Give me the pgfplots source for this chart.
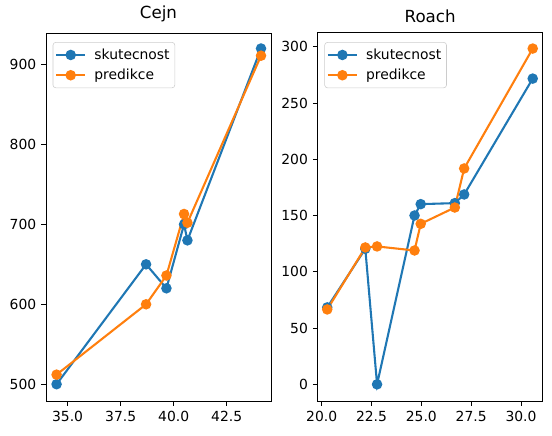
\documentclass[border=0pt]{standalone}
\usepackage{fontspec}
\setmainfont{DejaVu Sans}
\usepackage{pgfplots}
\pgfplotsset{compat=1.18}
\definecolor{cA}{HTML}{1F77B4}
\definecolor{cB}{HTML}{FF7F0E}
\pgfplotsset{
  panel/.style={
    scale only axis,
    width=162pt, height=265pt,
    axis line style={black, line width=0.6pt},
    tick align=outside,
    major tick length=3.5pt,
    every tick/.style={black, line width=0.6pt},
    xtick pos=bottom, ytick pos=left,
    tick label style={font=\fontsize{10}{12}\selectfont},
    title style={font=\fontsize{12}{14}\selectfont, yshift=-2pt},
    /pgf/number format/assume math mode=true,
    legend style={at={(0.03,0.975)}, anchor=north west, draw=black!20, rounded corners=2pt,
      font=\fontsize{10}{12}\selectfont, inner xsep=1.5pt, inner ysep=2.5pt,
      row sep=1.5pt, column sep=3.6pt,
      nodes={inner xsep=2.2pt, inner ysep=2pt}},
    legend image code/.code={
      \draw[mark repeat=2, mark phase=2] plot coordinates {(0pt,0pt) (10.5pt,0pt) (21pt,0pt)};},
    legend cell align=left,
    every axis plot/.append style={line width=1.5pt},
  },
  sk/.style={cA, mark=*, mark size=3pt, mark options={solid, fill=cA, draw=cA}},
  pr/.style={cB, mark=*, mark size=3pt, mark options={solid, fill=cB, draw=cB}},
}
\begin{document}
\begin{tikzpicture}
% page padding as in the reference (1px = 0.72pt)
\useasboundingbox (-33.1pt,-24.5pt) rectangle (364.3pt,288.7pt);
\begin{axis}[panel, title={Cejn},
  xmin=33.98, xmax=44.59, ymin=479, ymax=939.5,
  xtick={35,37.5,40,42.5},
  xticklabel style={/pgf/number format/.cd, fixed, fixed zerofill, precision=1},
  ytick={500,600,700,800,900}]
\addplot[sk] coordinates {
  (34.48,500) (38.70,650) (39.66,620) (40.49,700) (40.65,680) (44.12,920)
};
\addlegendentry{skutecnost}
\addplot[pr] coordinates {
  (34.48,512) (38.70,600) (39.66,636) (40.49,713) (40.65,702) (44.12,911)
};
\addlegendentry{predikce}
\end{axis}
\begin{axis}[panel, title={Roach}, xshift=195.6pt,
  xmin=19.80, xmax=31.09, ymin=-14.8, ymax=312.4,
  xtick={20,22.5,25,27.5,30},
  xticklabel style={/pgf/number format/.cd, fixed, fixed zerofill, precision=1},
  ytick={0,50,100,150,200,250,300}]
\addplot[sk] coordinates {
  (20.28,68.4) (22.19,120.5) (22.78,0) (24.66,150.1) (24.97,160.2) (26.68,161.1) (27.15,168.8) (30.59,271.8)
};
\addlegendentry{skutecnost}
\addplot[pr] coordinates {
  (20.28,66.6) (22.19,121.7) (22.78,122.6) (24.66,119.0) (24.97,142.7) (26.68,157.2) (27.15,191.9) (30.59,298.5)
};
\addlegendentry{predikce}
\end{axis}
\end{tikzpicture}
\end{document}
